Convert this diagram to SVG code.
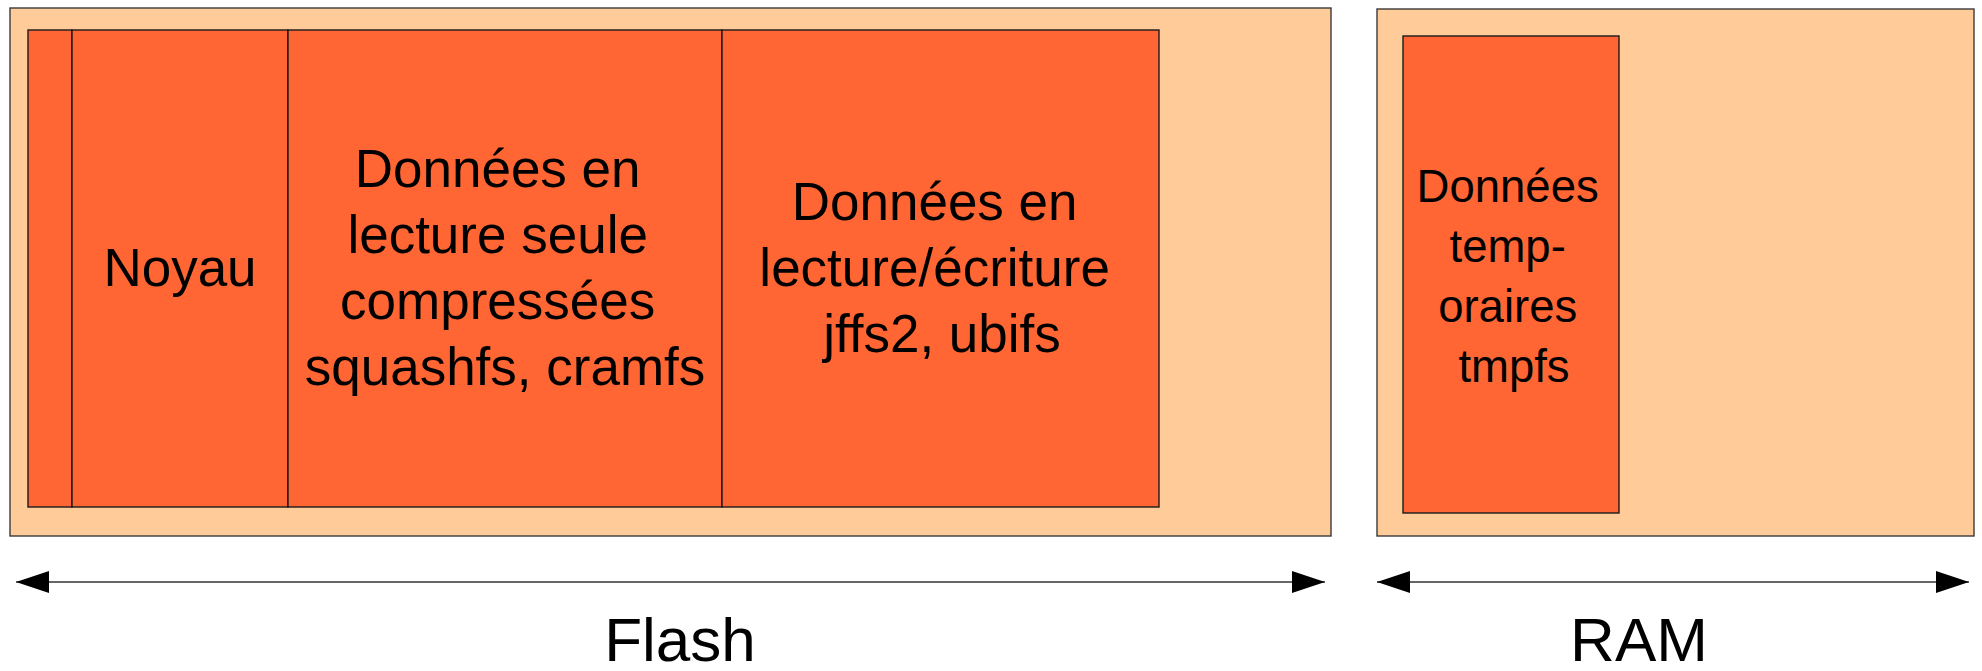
<svg xmlns="http://www.w3.org/2000/svg" width="1982" height="671" viewBox="0 0 1982 671">
  <style>
    .outer { fill: #ffcc99; stroke: #3a3a3a; stroke-width: 1.4; }
    .part { fill: #ff6633; stroke: #1a1a1a; stroke-width: 1.4; }
    .lbl { font-family: "Liberation Sans", Arial, Helvetica, sans-serif; fill: #000; text-anchor: middle; }
    .big { font-size: 53px; }
    .mid { font-size: 45.5px; }
    .cap { font-size: 62px; }
    .dim { stroke: #333; stroke-width: 1.4; fill: none; marker-start: url(#ah); marker-end: url(#ah); }
  </style>
  <defs>
    <marker id="ah" markerUnits="userSpaceOnUse" markerWidth="34" markerHeight="24" refX="33" refY="11" orient="auto-start-reverse" viewBox="0 0 34 24">
      <path d="M0,0 L33,11 L0,22 Z" fill="#000"/>
    </marker>
  </defs>
  <rect width="1982" height="671" fill="#fff"/>

  <g id="flash">
    <rect class="outer" x="10" y="8" width="1321" height="528"/>
  </g>
  <g id="ram">
    <rect class="outer" x="1377" y="9" width="597" height="527"/>
  </g>

  <g id="boot">
    <rect class="part" x="28" y="30" width="44" height="477"/>
  </g>
  <g id="noyau">
    <rect class="part" x="72" y="30" width="216" height="477"/>
    <text class="lbl big" x="180" y="286">Noyau</text>
  </g>
  <g id="lecture-seule">
    <rect class="part" x="288" y="30" width="434" height="477"/>
    <text class="lbl big" x="505">
      <tspan x="505" y="187">Données en</tspan>
      <tspan x="505" y="253">lecture seule</tspan>
      <tspan x="505" y="319">compressées</tspan>
      <tspan x="505" y="385">squashfs, cramfs</tspan>
    </text>
  </g>
  <g id="lecture-ecriture">
    <rect class="part" x="722" y="30" width="437" height="477"/>
    <text class="lbl big" x="942">
      <tspan x="942" y="220">Données en</tspan>
      <tspan x="942" y="286">lecture/écriture</tspan>
      <tspan x="942" y="352">jffs2, ubifs</tspan>
    </text>
  </g>
  <g id="tmpfs">
    <rect class="part" x="1403" y="36" width="216" height="477"/>
    <text class="lbl mid" x="1514">
      <tspan x="1514" y="202">Données</tspan>
      <tspan x="1514" y="262">temp-</tspan>
      <tspan x="1514" y="322">oraires</tspan>
      <tspan x="1514" y="382">tmpfs</tspan>
    </text>
  </g>

  <g id="connectors">
    <line class="dim" x1="16" y1="582" x2="1325" y2="582"/>
    <line class="dim" x1="1377" y1="582" x2="1969" y2="582"/>
  </g>

  <g id="labels">
    <text class="lbl cap" x="680" y="661">Flash</text>
    <text class="lbl cap" x="1639" y="661">RAM</text>
  </g>
</svg>
